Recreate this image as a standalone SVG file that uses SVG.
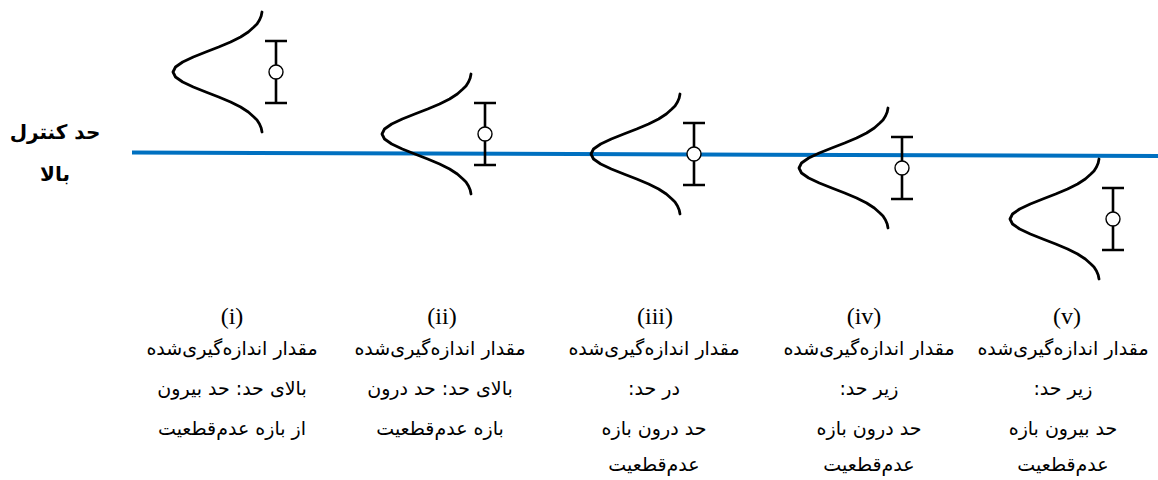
<svg xmlns="http://www.w3.org/2000/svg" xmlns:xlink="http://www.w3.org/1999/xlink" width="1158" height="480" viewBox="0 0 1158 480">
<style>
.bell{fill:none;stroke:#000;stroke-width:2.8;stroke-linejoin:round;stroke-linecap:round}
.bar{stroke:#000;stroke-width:2.6;fill:none}
.pt{fill:#fff;stroke:#000;stroke-width:1.4}
.num{font-family:"Liberation Serif","Times New Roman",serif;font-size:24px;fill:#000;text-anchor:middle}
.cap{font-family:"DejaVu Sans",sans-serif;font-size:19px;fill:#000;text-anchor:middle}
.lbl{font-family:"DejaVu Sans",sans-serif;font-size:20px;font-weight:bold;fill:#000;text-anchor:middle}
</style>
<defs>
<g id="bellshape">
<path class="bell" d="M89,-60 L88.2,-56 L86.5,-52 L84,-48 L80.9,-45 L75.3,-40 L67.6,-35 L57.6,-30 L45.7,-25 L32.8,-20 L20.3,-15 L9.7,-10 L2.5,-5 L0,0 L2.5,5 L9.7,10 L20.3,15 L32.8,20 L45.7,25 L57.6,30 L67.6,35 L75.3,40 L80.9,45 L84,48 L86.5,52 L88.2,56 L89,60"/>
<path class="bar" d="M103,-31 V31 M92,-31 H114 M92,31 H114"/>
<circle class="pt" cx="103" cy="0" r="7"/>
</g>
</defs>
<rect width="1158" height="480" fill="#fff"/>
<g id="connectors">
<line x1="132" y1="152.5" x2="1158" y2="156" stroke="#0070C0" stroke-width="4"/>
</g>
<g id="label-ucl">
<text class="lbl" x="55" y="139" direction="rtl">حد کنترل</text>
<text class="lbl" x="55" y="181" direction="rtl">بالا</text>
</g>
<g id="node-i">
<use xlink:href="#bellshape" transform="translate(173,72)"/>
<text class="num" x="232" y="324">(i)</text>
<text class="cap" x="232" y="355" direction="rtl">مقدار اندازه‌گیری‌شده</text>
<text class="cap" x="232" y="395" direction="rtl">بالای حد: حد بیرون</text>
<text class="cap" x="232" y="435" direction="rtl">از بازه عدم‌قطعیت</text>
</g>
<g id="node-ii">
<use xlink:href="#bellshape" transform="translate(382,134)"/>
<text class="num" x="442" y="324">(ii)</text>
<text class="cap" x="440" y="355" direction="rtl">مقدار اندازه‌گیری‌شده</text>
<text class="cap" x="440" y="395" direction="rtl">بالای حد: حد درون</text>
<text class="cap" x="440" y="435" direction="rtl">بازه عدم‌قطعیت</text>
</g>
<g id="node-iii">
<use xlink:href="#bellshape" transform="translate(591,154)"/>
<text class="num" x="655" y="324">(iii)</text>
<text class="cap" x="654" y="355" direction="rtl">مقدار اندازه‌گیری‌شده</text>
<text class="cap" x="654" y="395" direction="rtl">در حد:</text>
<text class="cap" x="654" y="435" direction="rtl">حد درون بازه</text>
<text class="cap" x="654" y="471" direction="rtl">عدم‌قطعیت</text>
</g>
<g id="node-iv">
<use xlink:href="#bellshape" transform="translate(799,168)"/>
<text class="num" x="864" y="324">(iv)</text>
<text class="cap" x="869" y="355" direction="rtl">مقدار اندازه‌گیری‌شده</text>
<text class="cap" x="869" y="395" direction="rtl">زیر حد:</text>
<text class="cap" x="869" y="435" direction="rtl">حد درون بازه</text>
<text class="cap" x="869" y="471" direction="rtl">عدم‌قطعیت</text>
</g>
<g id="node-v">
<use xlink:href="#bellshape" transform="translate(1010,219)"/>
<text class="num" x="1067" y="324">(v)</text>
<text class="cap" x="1063" y="355" direction="rtl">مقدار اندازه‌گیری‌شده</text>
<text class="cap" x="1063" y="395" direction="rtl">زیر حد:</text>
<text class="cap" x="1063" y="435" direction="rtl">حد بیرون بازه</text>
<text class="cap" x="1063" y="471" direction="rtl">عدم‌قطعیت</text>
</g>
</svg>
